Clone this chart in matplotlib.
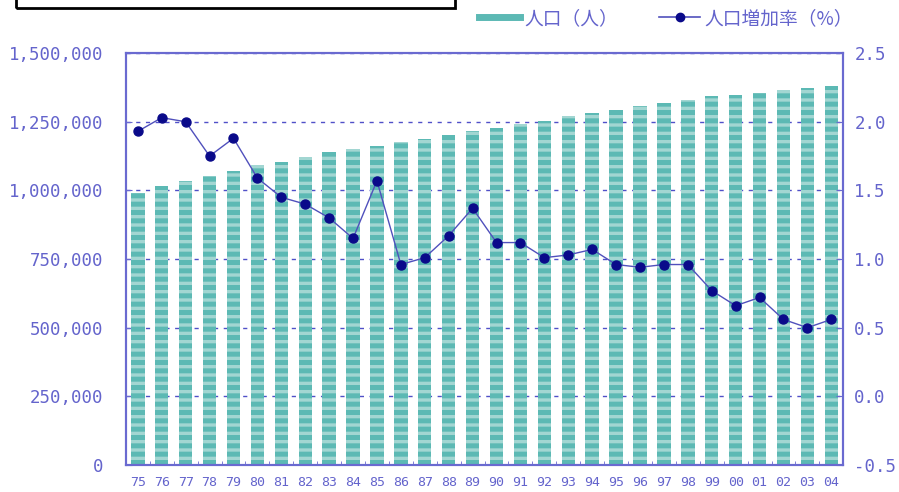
import matplotlib
matplotlib.use('Agg')
import matplotlib.pyplot as plt
from matplotlib.patches import Rectangle
import numpy as np

# years shown on the x axis
years = ['75', '76', '77', '78', '79', '80', '81', '82', '83', '84',
         '85', '86', '87', '88', '89', '90', '91', '92', '93', '94',
         '95', '96', '97', '98', '99', '00', '01', '02', '03', '04']

# population (persons), left axis
population = [990000, 1016000, 1034000, 1052000, 1070000, 1092000, 1103000,
              1121000, 1139000, 1150000, 1161000, 1176000, 1187000, 1201000,
              1216000, 1227000, 1241000, 1252000, 1270000, 1281000, 1292000,
              1307000, 1318000, 1329000, 1343000, 1347000, 1354000, 1365000,
              1372000, 1380000]

# population growth rate (%), right axis
growth = [1.93, 2.03, 2.00, 1.75, 1.88, 1.59, 1.45, 1.40, 1.30, 1.15,
          1.57, 0.96, 1.01, 1.17, 1.37, 1.12, 1.12, 1.01, 1.03, 1.07,
          0.96, 0.94, 0.96, 0.96, 0.77, 0.66, 0.72, 0.56, 0.50, 0.56]

left_ticks = [0, 250000, 500000, 750000, 1000000, 1250000, 1500000]
right_ticks = [-0.5, 0.0, 0.5, 1.0, 1.5, 2.0, 2.5]

axis_blue = '#6a6ad0'
text_blue = '#6464cc'
teal_dark = '#5cb9b4'
teal_light = '#a2d6d2'

plt.rcParams['font.family'] = ['DejaVu Sans Mono']
plt.rcParams['hatch.linewidth'] = 3.6

fig = plt.figure(figsize=(8.99, 4.92), dpi=100)
ax = fig.add_axes([0.140, 0.055, 0.798, 0.837])
ax2 = ax.twinx()

x = np.arange(len(years))

# grid behind the bars
ax.set_axisbelow(True)
ax.yaxis.grid(True, color='#5050c8', linestyle=(0, (3, 4)), linewidth=1.0)

ax.bar(x, population, width=0.56, color=teal_light, edgecolor=teal_dark,
       hatch='--', linewidth=0, zorder=2)

ax2.plot(x, growth, color='#5050bc', linewidth=1.0, marker='o',
         markersize=6.5, markerfacecolor='#0a0a8a', markeredgecolor='#0a0a8a',
         zorder=3)

ax.set_xlim(-0.5, len(years) - 0.5)
ax.set_ylim(0, 1500000)
ax2.set_ylim(-0.5, 2.5)

ax.set_yticks(left_ticks)
ax.set_yticklabels([f'{v:,}' for v in left_ticks])
ax2.set_yticks(right_ticks)
ax2.set_yticklabels([f'{v:.1f}' for v in right_ticks])

ax.set_xticks(x)
ax.set_xticklabels(years)
ax.set_xticks(np.arange(len(years) + 1) - 0.5, minor=True)

ax.tick_params(axis='y', direction='in', length=4, color=axis_blue,
               labelcolor=text_blue, labelsize=12.5, pad=16)
ax2.tick_params(axis='y', direction='in', length=5, color=axis_blue,
                labelcolor=text_blue, labelsize=12.5, pad=8)
ax.tick_params(axis='x', which='major', length=0, labelcolor=text_blue,
               labelsize=9.5, pad=8)
ax.tick_params(axis='x', which='minor', direction='in', length=3,
               color=axis_blue)

for a in (ax, ax2):
    for sp in a.spines.values():
        sp.set_color(axis_blue)
        sp.set_linewidth(1.5)

# legend at the top right
handles = [plt.Line2D([], [], color=teal_dark, linewidth=5),
           plt.Line2D([], [], color='#5050bc', linewidth=1.2, marker='o',
                      markersize=6, markerfacecolor='#0a0a8a',
                      markeredgecolor='#0a0a8a')]
leg = fig.legend(handles, ['人口（人）', '人口増加率（%）'], ncol=2,
                 loc='center left', bbox_to_anchor=(0.533, 0.963),
                 frameon=False, handlelength=2.2, columnspacing=2.2,
                 handletextpad=0.2, borderpad=0, borderaxespad=0,
                 prop={'family': ['Noto Sans CJK JP', 'DejaVu Sans'],
                       'size': 13.5})
for t in leg.get_texts():
    t.set_color(text_blue)

# empty title box cut off at the top left
fig.patches.append(Rectangle((16 / 899, 1 - 8 / 492), 439 / 899, 0.1,
                             transform=fig.transFigure, fill=False,
                             edgecolor='black', linewidth=2,
                             clip_on=False))

fig.savefig('out.png', dpi=100)
